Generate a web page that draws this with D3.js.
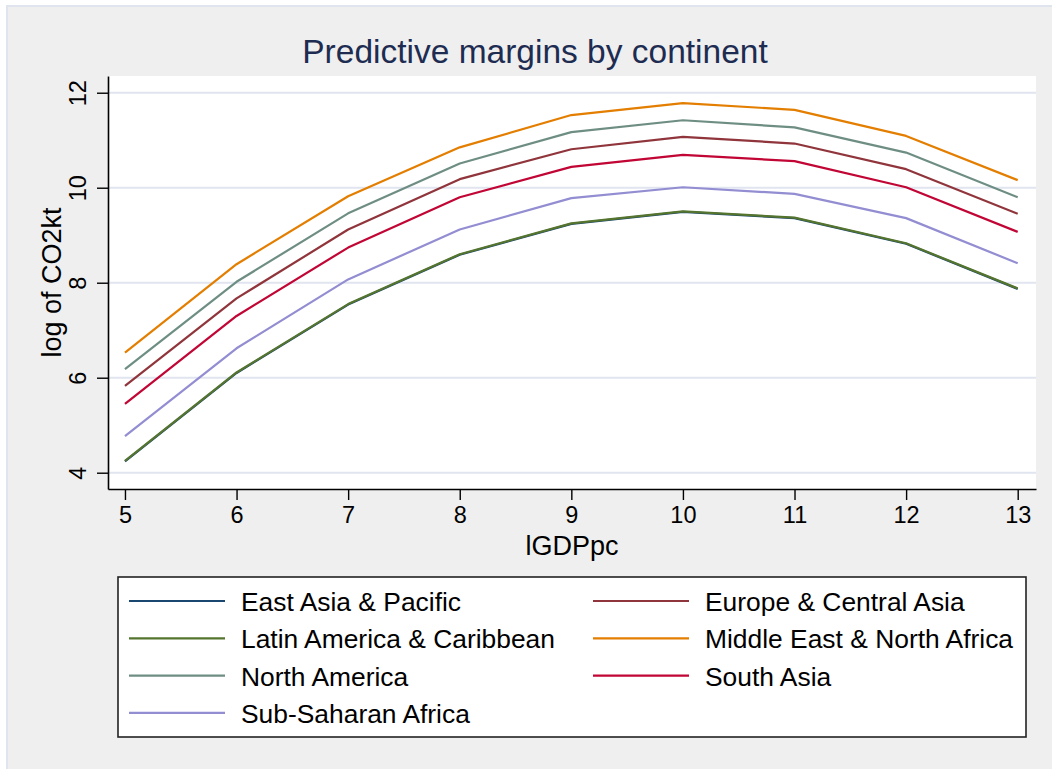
<!DOCTYPE html>
<html>
<head>
<meta charset="utf-8">
<script src="https://cdn.jsdelivr.net/npm/d3@7"></script>
<style>
  body { margin: 0; background: #fff; }
  svg { display: block; font-family: Arial, "Liberation Sans", sans-serif; }
</style>
</head>
<body>
<svg id="graph" width="1052" height="769"></svg>
<script>
// x values (lGDPpc)
const gdp = [5, 6, 7, 8, 9, 10, 11, 12, 13]

// predicted log CO2kt per continent
const eastAsia = [4.24, 6.10, 7.54, 8.59, 9.24, 9.49, 9.36, 8.82, 7.87]
const europe = [5.83, 7.67, 9.12, 10.18, 10.81, 11.07, 10.93, 10.39, 9.45]
const latinAmerica = [4.25, 6.11, 7.55, 8.60, 9.25, 9.50, 9.37, 8.83, 7.88]
const middleEast = [6.53, 8.39, 9.82, 10.85, 11.53, 11.78, 11.64, 11.09, 10.16]
const northAmerica = [6.18, 8.02, 9.46, 10.51, 11.17, 11.42, 11.27, 10.74, 9.80]
const southAsia = [5.45, 7.30, 8.74, 9.80, 10.44, 10.69, 10.56, 10.01, 9.07]
const subSahara = [4.77, 6.62, 8.07, 9.12, 9.78, 10.01, 9.87, 9.36, 8.41]

const continents = ["East Asia & Pacific", "Europe & Central Asia", "Latin America & Caribbean",
    "Middle East & North Africa", "North America", "South Asia", "Sub-Saharan Africa"]
const values = [eastAsia, europe, latinAmerica, middleEast, northAmerica, southAsia, subSahara]
const colors = ["#1a476f", "#90353b", "#55752f", "#e37e00", "#6e8e84", "#c10534", "#938dd2"]

const xTicks = [5, 6, 7, 8, 9, 10, 11, 12, 13]
const yTicks = [4, 6, 8, 10, 12]

// plot region
const margin = { top: 76, right: 16, bottom: 280, left: 108 }
const width = 1052 - margin.left - margin.right
const height = 769 - margin.top - margin.bottom

const svg = d3.select("#graph")

// outer grey background with thin border
svg.append("rect")
    .attr("x", 7).attr("y", 6)
    .attr("width", 1060).attr("height", 780)
    .attr("fill", "#efefef")
    .attr("stroke", "#e0e4ee")
    .attr("stroke-width", 2)

svg.append("text")
    .attr("x", 535).attr("y", 63)
    .attr("text-anchor", "middle")
    .attr("font-size", 33.5)
    .attr("fill", "#1e2c52")
    .text("Predictive margins by continent")

const g = svg.append("g")
    .attr("transform", `translate(${margin.left},${margin.top})`)

g.append("rect")
    .attr("width", width).attr("height", height)
    .attr("fill", "#fff")

const x = d3.scaleLinear()
    .domain([4.848, 13.164])
    .range([0, width])

const y = d3.scaleLinear()
    .domain([3.657, 12.352])
    .range([height, 0])

// gridlines
g.selectAll(".grid")
    .data(yTicks)
    .join("line")
    .attr("class", "grid")
    .attr("x1", 0).attr("x2", width)
    .attr("y1", d => y(d)).attr("y2", d => y(d))
    .attr("stroke", "#e1e5f0")
    .attr("stroke-width", 2)

// lines
const line = d3.line()
    .x((d, i) => x(gdp[i]))
    .y(d => y(d))

g.selectAll(".series")
    .data(values)
    .join("path")
    .attr("class", "series")
    .attr("d", line)
    .attr("fill", "none")
    .attr("stroke", (d, i) => colors[i])
    .attr("stroke-width", 2.2)
    .attr("stroke-linejoin", "round")

// axes
const xAxis = g.append("g")
    .attr("transform", `translate(0,${height})`)
    .call(d3.axisBottom(x).tickValues(xTicks).tickSize(11).tickPadding(6).tickSizeOuter(0))
xAxis.select(".domain").attr("stroke", "#000").attr("stroke-width", 1.6)
xAxis.selectAll(".tick line").attr("stroke", "#000").attr("stroke-width", 1.4)
xAxis.selectAll(".tick text").attr("font-size", 23.5).attr("fill", "#000")
    .attr("font-family", "Arial, 'Liberation Sans', sans-serif")

const yAxis = g.append("g")
    .call(d3.axisLeft(y).tickValues(yTicks).tickSize(11).tickSizeOuter(0))
yAxis.select(".domain").attr("stroke", "#000").attr("stroke-width", 1.6)
yAxis.selectAll(".tick line").attr("stroke", "#000").attr("stroke-width", 1.4)
yAxis.selectAll(".tick text")
    .attr("font-size", 23.5).attr("fill", "#000")
    .attr("font-family", "Arial, 'Liberation Sans', sans-serif")
    .attr("x", null).attr("dy", null)
    .attr("text-anchor", "middle")
    .attr("transform", "translate(-22,0) rotate(-90)")

// axis titles
g.append("text")
    .attr("x", width / 2).attr("y", height + 66)
    .attr("text-anchor", "middle")
    .attr("font-size", 27)
    .text("lGDPpc")

g.append("text")
    .attr("transform", `translate(-47,${height / 2}) rotate(-90)`)
    .attr("text-anchor", "middle")
    .attr("font-size", 27)
    .text("log of CO2kt")

// legend
const legend = svg.append("g").attr("transform", "translate(118,577)")
legend.append("rect")
    .attr("width", 908).attr("height", 160)
    .attr("fill", "#fff")
    .attr("stroke", "#222")
    .attr("stroke-width", 1.6)

const item = legend.selectAll(".item")
    .data(continents)
    .join("g")
    .attr("class", "item")
    .attr("transform", (d, i) => `translate(${i % 2 ? 475 : 11},${24 + Math.floor(i / 2) * 37.3})`)

item.append("line")
    .attr("x1", 0).attr("x2", 96)
    .attr("stroke", (d, i) => colors[i])
    .attr("stroke-width", 2.2)

item.append("text")
    .attr("x", 112).attr("y", 10)
    .attr("font-size", 26.4)
    .text(d => d)
</script>
</body>
</html>
